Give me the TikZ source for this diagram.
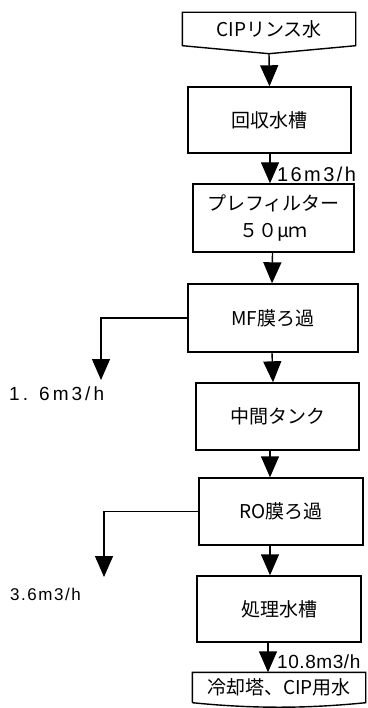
\documentclass[tikz,border=0pt]{standalone}
\usepackage{fontspec}
\setmainfont{Noto Sans CJK JP}
\newfontfamily\ratefont{Liberation Sans}
\usetikzlibrary{arrows.meta}

\begin{document}
\begin{tikzpicture}[x=1pt,y=-1pt,
	box/.style={draw, line width=1.4pt, inner sep=0pt, align=center, font=\fontsize{19}{27}\selectfont},
	flow/.style={line width=1.4pt, -{Triangle[width=18pt,length=21pt]}},
	rate/.style={anchor=west, inner sep=0pt}]
\useasboundingbox (0,0) rectangle (367,708);
\coordinate (axis) at (270,0);
\node [box, draw=none, minimum width=172pt, minimum height=32pt] (src) at (269,29) {CIPリンス水};
\draw [line width=1.4pt] (src.north west) -- (src.north east) -- (src.south east)
	-- ([yshift=-8pt]src.south) -- (src.south west) -- cycle;
\node [box, minimum width=163pt, minimum height=66pt] (tank) at (269.5,120) {回収水槽};
\node [box, minimum width=161pt, minimum height=68pt] (filter) at (273.5,218) {プレフィルター\\５０μｍ};
\node [box, minimum width=170pt, minimum height=68pt] (mf) at (273,318) {MF膜ろ過};
\node [box, minimum width=163pt, minimum height=67pt] (mid) at (277.5,416.5) {中間タンク};
\node [box, minimum width=164pt, minimum height=67pt] (ro) at (281,511.5) {RO膜ろ過};
\node [box, minimum width=164pt, minimum height=66pt] (treated) at (279,609) {処理水槽};
\node [box, draw=none, minimum width=172pt, minimum height=29pt] (dest) at (279,687.5) {冷却塔、CIP用水};
\draw [line width=1.4pt] (dest.south west) -- (dest.north west) -- (dest.north east) -- (dest.south east)
	.. controls +(-60,6) and +(60,6) .. (dest.south west);
\coordinate (drain1) at (101,380);
\coordinate (drain2) at (104,577);
% main line
\draw [flow] ([yshift=-8pt]src.south) -- (tank.north);
\draw [flow] (tank.south -| axis) -- (filter.north -| axis);
\draw [flow] ([xshift=-1pt]filter.south) -- ([xshift=-1pt]mf.north);
\draw [flow] ([xshift=-1pt]mf.south) -- (mid.north -| mf.south);
\draw [flow] (mid.south -| axis) -- (ro.north -| axis);
\draw [flow] (ro.south -| axis) -- (treated.north -| axis);
\draw [flow] ([xshift=-11pt]treated.south) -- ([xshift=-11pt]dest.north);
% reject lines
\draw [flow] (mf.west) -| (drain1);
\draw [flow] (ro.west) -| (drain2);
\node [rate, font=\ratefont\fontsize{20}{22}\selectfont\addfontfeature{LetterSpace=12}] (q1) at (277,174) {16m3/h};
\node [rate, font=\ratefont\fontsize{19}{22}\selectfont\addfontfeature{LetterSpace=16}] (q2) at (9,394) {1. 6m3/h};
\node [rate, font=\ratefont\fontsize{17}{20}\selectfont\addfontfeature{LetterSpace=9}] (q3) at (10,594) {3.6m3/h};
\node [rate, font=\ratefont\fontsize{19}{22}\selectfont\addfontfeature{LetterSpace=3}] (q4) at (277,662) {10.8m3/h};
\end{tikzpicture}
\end{document}
